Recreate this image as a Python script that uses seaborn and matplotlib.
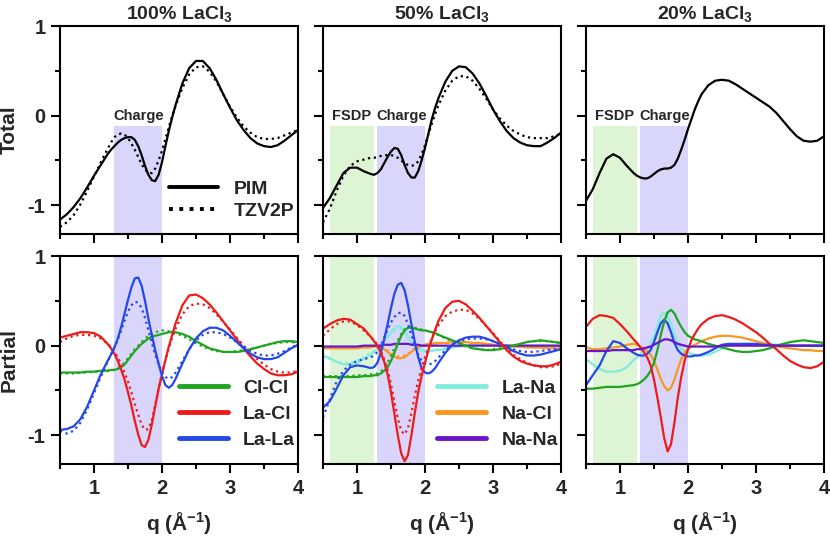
import matplotlib
matplotlib.use('Agg')
import matplotlib.pyplot as plt
from matplotlib.lines import Line2D
from matplotlib.ticker import MultipleLocator
import seaborn as sns

# q grid (A^-1), finer around the charge peak
q = [0.5, 0.6, 0.7, 0.8, 0.9, 1.0, 1.1, 1.2,
     1.25, 1.3, 1.35, 1.4, 1.45, 1.5, 1.55, 1.6, 1.65, 1.7,
     1.75, 1.8, 1.85, 1.9, 1.95, 2.0, 2.05, 2.1, 2.15, 2.2,
     2.3, 2.4, 2.5, 2.6, 2.7, 2.8, 2.9, 3.0, 3.1, 3.2, 3.3, 3.4, 3.5, 3.6, 3.7, 3.8, 3.9, 4.0]

# total structure factors
total_100_pim = [-1.16, -1.10, -1.02, -0.92, -0.80, -0.67, -0.55, -0.43,
                 -0.38, -0.34, -0.30, -0.27, -0.25, -0.24, -0.24, -0.27, -0.34, -0.44,
                 -0.56, -0.66, -0.72, -0.73, -0.66, -0.52, -0.34, -0.17, -0.02, 0.12,
                 0.36, 0.53, 0.61, 0.61, 0.53, 0.40, 0.24, 0.09, -0.05, -0.16, -0.25, -0.31, -0.34, -0.35, -0.33, -0.28, -0.22, -0.16]
total_100_tzv = [-1.24, -1.19, -1.11, -0.99, -0.84, -0.68, -0.52, -0.37,
                 -0.30, -0.24, -0.21, -0.20, -0.21, -0.25, -0.31, -0.38, -0.46, -0.54,
                 -0.60, -0.64, -0.64, -0.59, -0.50, -0.39, -0.26, -0.13, 0.00, 0.11,
                 0.31, 0.46, 0.54, 0.55, 0.49, 0.38, 0.24, 0.10, -0.02, -0.12, -0.19, -0.24, -0.26, -0.26, -0.25, -0.22, -0.19, -0.16]
total_50_pim = [-1.03, -0.92, -0.78, -0.64, -0.58, -0.58, -0.62, -0.65,
                -0.66, -0.64, -0.60, -0.53, -0.46, -0.40, -0.36, -0.37, -0.44, -0.55,
                -0.64, -0.69, -0.69, -0.62, -0.50, -0.36, -0.20, -0.04, 0.09, 0.20,
                0.38, 0.50, 0.55, 0.54, 0.47, 0.36, 0.22, 0.07, -0.06, -0.17, -0.25, -0.30, -0.33, -0.34, -0.34, -0.30, -0.25, -0.19]
total_50_tzv = [-1.19, -1.04, -0.84, -0.67, -0.56, -0.51, -0.49, -0.47,
                -0.47, -0.46, -0.45, -0.44, -0.44, -0.44, -0.45, -0.47, -0.50, -0.53,
                -0.55, -0.56, -0.55, -0.51, -0.43, -0.33, -0.21, -0.09, 0.02, 0.12,
                0.28, 0.39, 0.44, 0.44, 0.39, 0.30, 0.19, 0.07, -0.03, -0.11, -0.17, -0.21, -0.24, -0.25, -0.25, -0.25, -0.23, -0.20]
total_20_pim = [-0.95, -0.82, -0.64, -0.48, -0.43, -0.47, -0.56, -0.64,
                -0.67, -0.69, -0.70, -0.70, -0.68, -0.65, -0.62, -0.60, -0.59, -0.59,
                -0.58, -0.55, -0.48, -0.38, -0.27, -0.15, -0.04, 0.07, 0.16, 0.24,
                0.34, 0.39, 0.40, 0.39, 0.35, 0.30, 0.25, 0.20, 0.15, 0.10, 0.03, -0.06, -0.15, -0.23, -0.28, -0.29, -0.28, -0.23]

# partials, 100% LaCl3
clcl_100_pim = [-0.30, -0.30, -0.30, -0.30, -0.29, -0.29, -0.28, -0.28,
                -0.27, -0.27, -0.26, -0.24, -0.21, -0.16, -0.11, -0.06, -0.02, 0.02,
                0.05, 0.08, 0.10, 0.11, 0.12, 0.13, 0.14, 0.15, 0.15, 0.15,
                0.13, 0.10, 0.05, 0.01, -0.03, -0.05, -0.07, -0.07, -0.07, -0.06, -0.04, -0.02, 0.00, 0.02, 0.04, 0.05, 0.05, 0.04]
clcl_100_tzv = [-0.31, -0.31, -0.31, -0.30, -0.30, -0.29, -0.29, -0.28,
                -0.28, -0.27, -0.25, -0.23, -0.19, -0.14, -0.09, -0.04, 0.00, 0.04,
                0.08, 0.11, 0.13, 0.15, 0.16, 0.17, 0.17, 0.16, 0.15, 0.14,
                0.11, 0.07, 0.03, -0.01, -0.04, -0.06, -0.07, -0.07, -0.06, -0.05, -0.04, -0.02, 0.00, 0.02, 0.03, 0.04, 0.04, 0.03]
lacl_100_pim = [0.09, 0.11, 0.13, 0.15, 0.15, 0.14, 0.10, 0.02,
                -0.03, -0.09, -0.17, -0.27, -0.38, -0.52, -0.67, -0.84, -0.99, -1.11,
                -1.13, -1.05, -0.88, -0.68, -0.48, -0.32, -0.16, -0.01, 0.12, 0.25,
                0.45, 0.56, 0.57, 0.53, 0.46, 0.37, 0.27, 0.17, 0.07, -0.03, -0.12, -0.20, -0.26, -0.31, -0.33, -0.33, -0.32, -0.29]
lacl_100_tzv = [0.04, 0.08, 0.11, 0.12, 0.12, 0.11, 0.08, 0.02,
                -0.02, -0.07, -0.13, -0.21, -0.30, -0.40, -0.52, -0.65, -0.77, -0.88,
                -0.94, -0.93, -0.83, -0.66, -0.48, -0.31, -0.16, -0.03, 0.09, 0.19,
                0.35, 0.44, 0.47, 0.46, 0.42, 0.35, 0.27, 0.18, 0.09, 0.00, -0.08, -0.15, -0.21, -0.26, -0.29, -0.30, -0.30, -0.28]
lala_100_pim = [-0.94, -0.93, -0.90, -0.82, -0.68, -0.50, -0.32, -0.17,
                -0.10, -0.02, 0.08, 0.21, 0.36, 0.51, 0.65, 0.75, 0.76, 0.67,
                0.50, 0.30, 0.12, -0.05, -0.20, -0.34, -0.44, -0.47, -0.44, -0.37,
                -0.20, -0.04, 0.08, 0.16, 0.20, 0.20, 0.17, 0.11, 0.04, -0.03, -0.09, -0.13, -0.15, -0.15, -0.13, -0.08, -0.03, 0.01]
lala_100_tzv = [-0.95, -0.98, -0.95, -0.86, -0.71, -0.53, -0.35, -0.18,
                -0.10, -0.02, 0.07, 0.17, 0.28, 0.38, 0.45, 0.49, 0.48, 0.42,
                0.31, 0.17, 0.03, -0.10, -0.21, -0.30, -0.35, -0.37, -0.35, -0.30,
                -0.17, -0.04, 0.06, 0.12, 0.15, 0.15, 0.13, 0.09, 0.04, -0.01, -0.06, -0.09, -0.11, -0.11, -0.09, -0.06, -0.02, 0.01]

# partials, 50% LaCl3
clcl_50_pim = [-0.35, -0.35, -0.35, -0.35, -0.35, -0.35, -0.34, -0.34,
               -0.33, -0.33, -0.31, -0.28, -0.24, -0.17, -0.08, 0.02, 0.11, 0.17,
               0.20, 0.20, 0.19, 0.18, 0.17, 0.17, 0.16, 0.15, 0.14, 0.12,
               0.09, 0.06, 0.03, 0.00, -0.03, -0.04, -0.05, -0.05, -0.04, -0.02, 0.00, 0.02, 0.04, 0.05, 0.06, 0.05, 0.04, 0.03]
clcl_50_tzv = [-0.34, -0.34, -0.34, -0.34, -0.34, -0.33, -0.33, -0.32,
               -0.32, -0.31, -0.29, -0.25, -0.19, -0.11, -0.03, 0.06, 0.13, 0.18,
               0.20, 0.21, 0.20, 0.19, 0.18, 0.17, 0.16, 0.15, 0.13, 0.12,
               0.08, 0.05, 0.02, -0.01, -0.03, -0.04, -0.05, -0.04, -0.03, -0.02, 0.00, 0.02, 0.04, 0.05, 0.05, 0.05, 0.04, 0.03]
lacl_50_pim = [0.19, 0.24, 0.28, 0.30, 0.29, 0.24, 0.19, 0.10,
               0.05, 0.00, -0.08, -0.18, -0.32, -0.52, -0.76, -1.00, -1.20, -1.29,
               -1.22, -1.00, -0.75, -0.52, -0.34, -0.19, -0.05, 0.07, 0.18, 0.28,
               0.42, 0.49, 0.50, 0.46, 0.39, 0.31, 0.22, 0.13, 0.04, -0.05, -0.12, -0.17, -0.20, -0.22, -0.23, -0.23, -0.21, -0.18]
lacl_50_tzv = [0.11, 0.18, 0.24, 0.27, 0.27, 0.23, 0.17, 0.10,
               0.06, 0.01, -0.06, -0.15, -0.27, -0.43, -0.62, -0.81, -0.95, -0.99,
               -0.92, -0.75, -0.56, -0.39, -0.25, -0.13, -0.02, 0.08, 0.16, 0.23,
               0.33, 0.38, 0.40, 0.40, 0.36, 0.30, 0.22, 0.14, 0.05, -0.03, -0.10, -0.15, -0.19, -0.22, -0.24, -0.24, -0.23, -0.20]
lala_50_pim = [-0.69, -0.62, -0.48, -0.33, -0.24, -0.22, -0.23, -0.25,
               -0.24, -0.19, -0.08, 0.07, 0.24, 0.42, 0.58, 0.68, 0.70, 0.62,
               0.45, 0.24, 0.04, -0.13, -0.25, -0.30, -0.31, -0.29, -0.25, -0.19,
               -0.08, 0.01, 0.06, 0.09, 0.10, 0.10, 0.08, 0.05, 0.02, -0.02, -0.06, -0.09, -0.11, -0.11, -0.10, -0.08, -0.06, -0.04]
lala_50_tzv = [-0.80, -0.60, -0.40, -0.28, -0.21, -0.17, -0.15, -0.13,
               -0.11, -0.07, 0.00, 0.09, 0.18, 0.26, 0.32, 0.36, 0.37, 0.33,
               0.24, 0.12, 0.00, -0.10, -0.17, -0.20, -0.21, -0.20, -0.17, -0.13,
               -0.05, 0.01, 0.05, 0.07, 0.08, 0.08, 0.07, 0.05, 0.02, -0.01, -0.04, -0.06, -0.07, -0.07, -0.06, -0.05, -0.04, -0.03]
lana_50_pim = [-0.11, -0.14, -0.18, -0.21, -0.21, -0.19, -0.15, -0.10,
               -0.07, -0.03, 0.01, 0.05, 0.10, 0.15, 0.19, 0.22, 0.21, 0.16,
               0.10, 0.03, -0.02, -0.04, -0.05, -0.06, -0.06, -0.06, -0.05, -0.05,
               -0.04, -0.02, -0.01, 0.00, 0.01, 0.01, 0.01, 0.01, 0.00, 0.00, 0.00, 0.00, 0.00, 0.00, 0.00, 0.00, 0.00, 0.00]
lana_50_tzv = [-0.12, -0.15, -0.18, -0.19, -0.19, -0.17, -0.13, -0.08,
               -0.06, -0.03, 0.01, 0.05, 0.09, 0.13, 0.16, 0.18, 0.18, 0.15,
               0.10, 0.04, 0.00, -0.03, -0.04, -0.05, -0.05, -0.05, -0.04, -0.04,
               -0.03, -0.02, -0.01, 0.00, 0.00, 0.01, 0.01, 0.01, 0.00, 0.00, 0.00, 0.00, 0.00, 0.00, 0.00, 0.00, 0.00, 0.00]
nacl_50_pim = [-0.03, -0.03, -0.03, -0.03, -0.03, -0.03, -0.02, -0.02,
               -0.01, -0.01, -0.02, -0.04, -0.07, -0.10, -0.12, -0.14, -0.14, -0.13,
               -0.10, -0.07, -0.04, -0.02, 0.00, 0.01, 0.02, 0.02, 0.03, 0.03,
               0.03, 0.04, 0.04, 0.04, 0.03, 0.03, 0.02, 0.01, 0.00, 0.00, -0.01, -0.01, -0.02, -0.02, -0.02, -0.03, -0.03, -0.03]
nacl_50_tzv = [-0.02, -0.02, -0.02, -0.02, -0.02, -0.02, -0.02, -0.01,
               -0.01, -0.01, -0.02, -0.03, -0.05, -0.08, -0.10, -0.12, -0.12, -0.11,
               -0.09, -0.06, -0.03, -0.01, 0.00, 0.01, 0.02, 0.02, 0.02, 0.03,
               0.03, 0.03, 0.04, 0.04, 0.03, 0.03, 0.02, 0.01, 0.00, 0.00, -0.01, -0.01, -0.01, -0.02, -0.02, -0.02, -0.02, -0.02]
nana_50_pim = [-0.01, -0.01, -0.01, -0.01, -0.01, -0.01, 0.00, 0.00,
               0.00, 0.00, 0.00, 0.01, 0.01, 0.01, 0.02, 0.02, 0.02, 0.02,
               0.02, 0.01, 0.01, 0.01, 0.00, 0.00, 0.00, 0.00, 0.00, 0.00,
               0.00, 0.00, 0.00, 0.00, 0.00, 0.00, 0.00, 0.00, 0.00, 0.00, 0.00, 0.00, 0.00, 0.00, 0.00, 0.00, 0.00, 0.00]

# partials, 20% LaCl3
clcl_20_pim = [-0.48, -0.48, -0.47, -0.46, -0.46, -0.46, -0.45, -0.44,
               -0.43, -0.41, -0.38, -0.34, -0.28, -0.19, -0.05, 0.12, 0.27, 0.37,
               0.40, 0.36, 0.28, 0.21, 0.15, 0.11, 0.09, 0.07, 0.06, 0.05,
               0.02, 0.00, -0.02, -0.04, -0.06, -0.07, -0.07, -0.06, -0.05, -0.03, 0.00, 0.02, 0.04, 0.05, 0.06, 0.05, 0.04, 0.03]
lacl_20_pim = [0.21, 0.30, 0.34, 0.33, 0.31, 0.24, 0.16, 0.07,
               0.03, -0.02, -0.07, -0.13, -0.22, -0.38, -0.58, -0.80, -1.03, -1.18,
               -1.10, -0.86, -0.58, -0.35, -0.17, -0.04, 0.06, 0.13, 0.19, 0.24,
               0.30, 0.33, 0.34, 0.32, 0.29, 0.25, 0.20, 0.15, 0.09, 0.02, -0.04, -0.11, -0.17, -0.21, -0.24, -0.25, -0.23, -0.18]
lala_20_pim = [-0.44, -0.33, -0.22, -0.06, 0.05, 0.03, -0.03, -0.08,
               -0.10, -0.11, -0.11, -0.09, -0.05, 0.04, 0.15, 0.25, 0.29, 0.25,
               0.15, 0.03, -0.05, -0.09, -0.11, -0.12, -0.12, -0.11, -0.11, -0.10,
               -0.07, -0.03, 0.01, 0.02, 0.02, 0.02, 0.02, 0.02, 0.01, 0.01, 0.00, 0.00, 0.00, 0.00, 0.00, 0.00, 0.00, 0.00]
lana_20_pim = [-0.15, -0.21, -0.26, -0.29, -0.29, -0.28, -0.24, -0.16,
               -0.13, -0.10, -0.06, -0.03, 0.02, 0.10, 0.22, 0.33, 0.37, 0.33,
               0.24, 0.12, 0.03, -0.03, -0.06, -0.08, -0.09, -0.10, -0.11, -0.11,
               -0.10, -0.07, -0.03, 0.00, 0.01, 0.02, 0.02, 0.02, 0.02, 0.02, 0.01, 0.01, 0.01, 0.00, 0.00, 0.00, 0.00, 0.00]
nacl_20_pim = [-0.02, -0.04, -0.04, -0.03, -0.02, -0.01, 0.01, 0.02,
               0.01, -0.01, -0.03, -0.06, -0.10, -0.17, -0.27, -0.37, -0.45, -0.50,
               -0.47, -0.38, -0.26, -0.15, -0.08, -0.04, -0.01, 0.01, 0.03, 0.05,
               0.08, 0.10, 0.11, 0.11, 0.10, 0.09, 0.07, 0.05, 0.03, 0.01, -0.01, -0.02, -0.03, -0.04, -0.05, -0.05, -0.06, -0.06]
nana_20_pim = [-0.06, -0.06, -0.06, -0.06, -0.05, -0.05, -0.05, -0.05,
               -0.04, -0.04, -0.03, -0.02, -0.01, 0.01, 0.03, 0.05, 0.07, 0.07,
               0.06, 0.04, 0.02, 0.01, 0.00, -0.01, -0.01, -0.01, -0.01, -0.01,
               -0.01, -0.01, 0.00, 0.00, 0.00, 0.00, 0.00, 0.00, 0.00, 0.00, 0.00, 0.00, 0.00, 0.00, 0.00, 0.00, 0.00, 0.00]

titles = ['100% LaCl$_3$', '50% LaCl$_3$', '20% LaCl$_3$']
pair_names = ['Cl-Cl', 'La-Cl', 'La-La', 'La-Na', 'Na-Cl', 'Na-Na']
pair_colors = ['#1fa51f', '#ee1b1b', '#2448ea', '#80ecdc', '#fb9620', '#6a16c8']
charge_col = '#d9d5fb'
fsdp_col = '#ddf5d5'

sns.set_style('ticks')
plt.rcParams['font.family'] = ['Liberation Sans', 'DejaVu Sans']
plt.rcParams['font.weight'] = 'bold'
plt.rcParams['axes.labelweight'] = 'bold'
plt.rcParams['axes.titleweight'] = 'bold'
plt.rcParams['axes.unicode_minus'] = False
plt.rcParams['mathtext.fontset'] = 'custom'
plt.rcParams['mathtext.rm'] = 'Liberation Sans:bold'
plt.rcParams['mathtext.it'] = 'Liberation Sans:bold'
plt.rcParams['mathtext.bf'] = 'Liberation Sans:bold'
plt.rcParams['mathtext.default'] = 'rm'

W, H = 830, 538
fig = plt.figure(figsize=(W / 100, H / 100), dpi=100)
lefts = [60, 323, 586]


def box(left, top):
    return [left / W, 1 - (top + 208) / H, 238 / W, 208 / H]


top_axes = [fig.add_axes(box(l, 26)) for l in lefts]
bot_axes = [fig.add_axes(box(l, 256)) for l in lefts]

totals = [(total_100_pim, total_100_tzv), (total_50_pim, total_50_tzv), (total_20_pim, None)]
partials = [
    [(0, clcl_100_pim, clcl_100_tzv), (1, lacl_100_pim, lacl_100_tzv), (2, lala_100_pim, lala_100_tzv)],
    [(3, lana_50_pim, lana_50_tzv), (4, nacl_50_pim, nacl_50_tzv), (5, nana_50_pim, None),
     (0, clcl_50_pim, clcl_50_tzv), (2, lala_50_pim, lala_50_tzv), (1, lacl_50_pim, lacl_50_tzv)],
    [(3, lana_20_pim, None), (4, nacl_20_pim, None), (2, lala_20_pim, None),
     (0, clcl_20_pim, None), (1, lacl_20_pim, None), (5, nana_20_pim, None)],
]

for i in range(3):
    ax_t, ax_b = top_axes[i], bot_axes[i]

    # shaded regions
    span_top = (-0.11 + 1.32) / 2.32
    ax_t.axvspan(1.3, 2.0, ymin=0, ymax=span_top, color=charge_col, lw=0, zorder=0)
    ax_b.axvspan(1.3, 2.0, color=charge_col, lw=0, zorder=0)
    ax_t.text(1.65, 0.0, 'Charge', ha='center', va='center', fontsize=10.5)
    if i > 0:
        ax_t.axvspan(0.6, 1.25, ymin=0, ymax=span_top, color=fsdp_col, lw=0, zorder=0)
        ax_b.axvspan(0.6, 1.25, color=fsdp_col, lw=0, zorder=0)
        ax_t.text(0.925, 0.0, 'FSDP', ha='center', va='center', fontsize=10.5)

    pim, tzv = totals[i]
    if tzv is not None:
        sns.lineplot(x=q, y=tzv, ax=ax_t, color='black', lw=1.6, linestyle=':')
    sns.lineplot(x=q, y=pim, ax=ax_t, color='black', lw=1.6)

    for k, s_pim, s_tzv in partials[i]:
        if s_tzv is not None:
            sns.lineplot(x=q, y=s_tzv, ax=ax_b, color=pair_colors[k], lw=1.6, linestyle=':')
        sns.lineplot(x=q, y=s_pim, ax=ax_b, color=pair_colors[k], lw=1.6)

    ax_t.set_title(titles[i], fontsize=14, pad=5)
    ax_b.set_xlabel('q (Å$^{-1}$)', fontsize=15, labelpad=9)

    for ax in (ax_t, ax_b):
        ax.set_xlim(0.5, 4)
        ax.set_ylim(-1.32, 1.0)
        ax.xaxis.set_major_locator(MultipleLocator(1))
        ax.xaxis.set_minor_locator(MultipleLocator(0.5))
        ax.yaxis.set_major_locator(MultipleLocator(1))
        ax.yaxis.set_minor_locator(MultipleLocator(0.5))
        ax.tick_params(which='major', direction='out', length=6.5, width=1.5, labelsize=14.5, pad=4, color='black')
        ax.tick_params(which='minor', direction='out', length=3.5, width=1.5, color='black')
        for sp in ax.spines.values():
            sp.set_linewidth(1.5)
            sp.set_color('black')
        ax.set_ylabel('')
        if i > 0:
            ax.tick_params(labelleft=False)
    ax_t.tick_params(labelbottom=False)
    ax_t.set_xlabel('')

fig.text(9 / W, 1 - 130 / H, 'Total', rotation=90, ha='center', va='center', fontsize=15)
fig.text(9 / W, 1 - 360 / H, 'Partial', rotation=90, ha='center', va='center', fontsize=15)

# legends
top_handles = [Line2D([], [], color='black', lw=2.8), Line2D([], [], color='black', lw=2.8, linestyle=':')]
top_axes[0].legend(top_handles, ['PIM', 'TZV2P'], loc='center left', bbox_to_anchor=(0.46, 0.163),
                   frameon=False, fontsize=14, handlelength=2.5, handletextpad=0.8,
                   labelspacing=0.25, borderpad=0, borderaxespad=0)

for j, ax in enumerate(bot_axes[:2]):
    ks = [0, 1, 2] if j == 0 else [3, 4, 5]
    hs = [Line2D([], [], color=pair_colors[k], lw=3.5) for k in ks]
    ax.legend(hs, [pair_names[k] for k in ks], loc='center left',
              bbox_to_anchor=(0.50 if j == 0 else 0.48, 0.24), frameon=False, fontsize=14,
              handlelength=2.5, handletextpad=0.8, labelspacing=0.42, borderpad=0, borderaxespad=0)

fig.savefig('out.png', dpi=100)
